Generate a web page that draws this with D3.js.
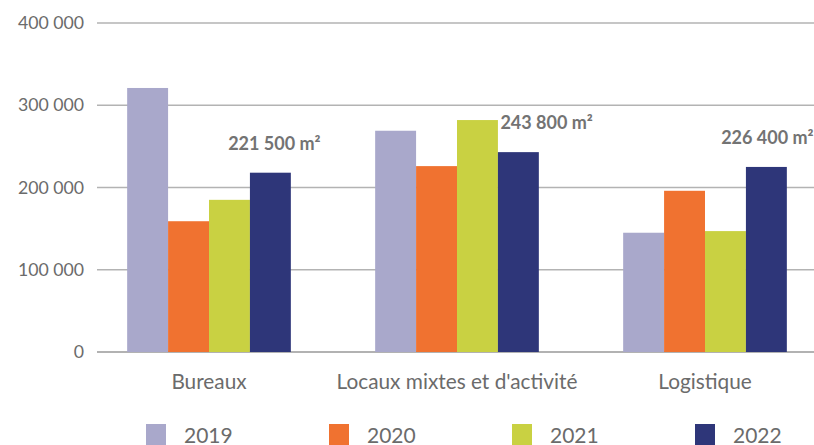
<!DOCTYPE html>
<html><head><meta charset="utf-8">
<script src="https://cdn.jsdelivr.net/npm/d3@7/dist/d3.min.js"></script>
<style>body{margin:0;background:#fff}svg{display:block;font-family:Lato,"Open Sans",sans-serif}</style>
</head><body><svg id="c" width="814" height="445"></svg>
<script>
const categories = ["Bureaux", "Locaux mixtes et d'activité", "Logistique"];
const years = ["2019", "2020", "2021", "2022"];
const values2019 = [321000, 269000, 145000];
const values2020 = [159000, 226000, 196000];
const values2021 = [185000, 282000, 147000];
const values2022 = [218000, 243000, 225000];
const totalLabels = ["221 500 m²", "243 800 m²", "226 400 m²"];
const yTicks = [0, 100000, 200000, 300000, 400000];
const colors = ["#A9A8CB", "#F07230", "#C9D142", "#2E3679"];

const series = [values2019, values2020, values2021, values2022];
const svg = d3.select("#c");
const y = d3.scaleLinear().domain([0, 400000]).range([352, 23]);
const x0 = d3.scaleBand().domain(categories).range([85, 829]).paddingInner(0.34).paddingOuter(0.17);
const x1 = d3.scaleBand().domain(years).range([0, x0.bandwidth()]);
const fmt = v => d3.format(",")(v).replace(/,/g, " ");

svg.append("g").selectAll("line").data(yTicks).join("line")
  .attr("x1", 97).attr("x2", 814)
  .attr("y1", d => y(d)).attr("y2", d => y(d))
  .attr("stroke", d => d === 0 ? "#999" : "#b3b3b3").attr("stroke-width", 1.5);

svg.append("g").selectAll("text").data(yTicks).join("text")
  .attr("x", 84).attr("y", d => y(d)).attr("dy", "0.35em")
  .attr("text-anchor", "end").attr("font-size", 17.7).attr("fill", "#6b6b6b")
  .text(d => fmt(d));

const g = svg.append("g");
categories.forEach((c, i) => {
  years.forEach((yr, j) => {
    g.append("rect")
      .attr("x", x0(c) + x1(yr)).attr("width", x1.bandwidth())
      .attr("y", y(series[j][i])).attr("height", y(0) - y(series[j][i]))
      .attr("fill", colors[j]);
  });
});

svg.append("g").selectAll("text").data(categories).join("text")
  .attr("x", d => x0(d) + x0.bandwidth() / 2).attr("y", 389)
  .attr("text-anchor", "middle").attr("font-size", 20.8).attr("fill", "#6b6b6b")
  .text(d => d);

const labelDx = [4, -18, 1];
svg.append("g").selectAll("text").data(totalLabels).join("text")
  .attr("x", (d, i) => x0(categories[i]) + x1("2022") + x1.bandwidth() / 2 + labelDx[i])
  .attr("y", (d, i) => y(values2022[i]) - 23)
  .attr("text-anchor", (d, i) => i === 1 ? "start" : "middle")
  .attr("font-size", 18).attr("font-weight", "bold").attr("fill", "#737373")
  .text(d => d);

const leg = svg.append("g").selectAll("g").data(years).join("g")
  .attr("transform", (d, i) => `translate(${146 + i * 183},424)`);
leg.append("rect").attr("width", 20).attr("height", 21).attr("fill", (d, i) => colors[i]);
leg.append("text").attr("x", 38).attr("y", 19).attr("font-size", 21).attr("fill", "#6b6b6b").text(d => d);
</script></body></html>
